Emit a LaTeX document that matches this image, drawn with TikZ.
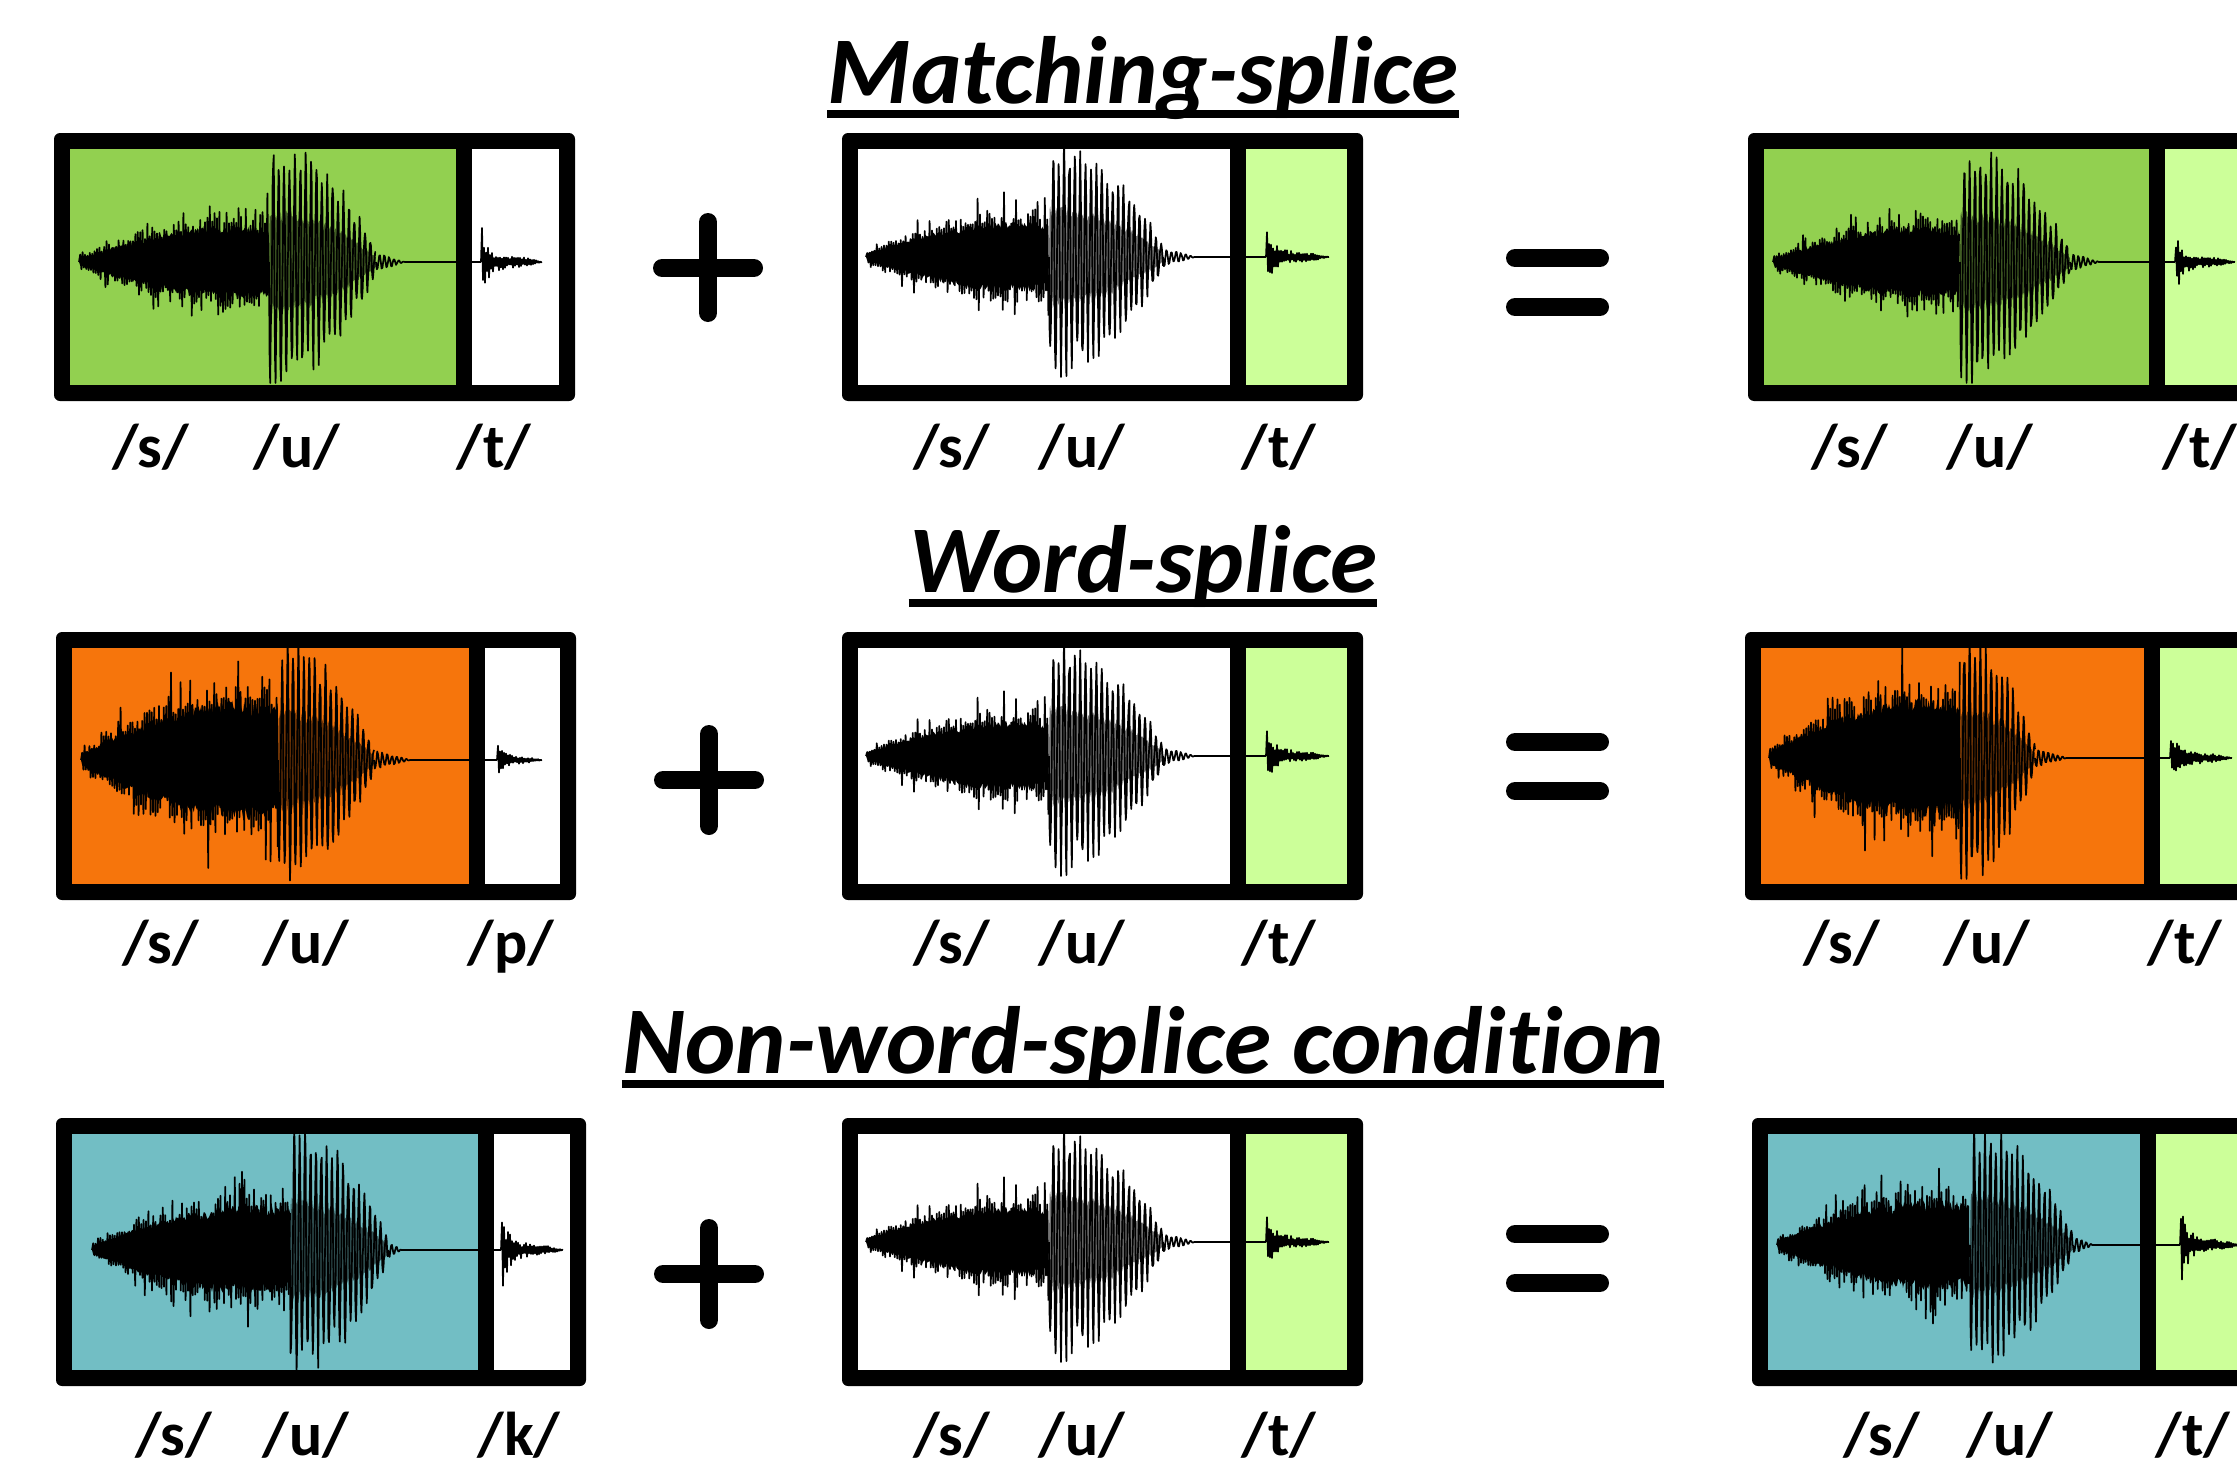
\documentclass[tikz,border=0pt]{standalone}
\usepackage{fontspec}
\setmainfont{Carlito}[Ligatures=NoCommon]

\definecolor{leafgreen}{RGB}{146,208,80}
\definecolor{palegreen}{RGB}{204,255,153}
\definecolor{splorange}{RGB}{246,117,12}
\definecolor{splteal}{RGB}{114,190,196}

% framed recording: #1 left, #2 cut, #3 right, #4 top, #5 and #6 fill colours
\newcommand{\recording}[6]{%
  \fill[recframe] (#1,#4) rectangle (#3,#4+268);
  \fill[#5] (#1+16,#4+16) rectangle (#2,#4+252);
  \fill[#6] (#2+16,#4+16) rectangle (#3-16,#4+252);
}

% fricative noise: #1 start x, #2 end x, #3 centre y, #4 peak amplitude
\newcommand{\noisewave}[4]{%
  \pgfmathtruncatemacro{\wn}{(#2-#1)/1.2}
  % solid core
  \fill (#1,#3) \foreach \wi in {1,...,\wn}
    { -- ({#1+1.2*\wi},{#3-#4*(0.1+0.9*sin(112*(\wi/\wn)))*(0.45+0.15*rnd)}) }
    \foreach \wi in {\wn,...,1}
    { -- ({#1+1.2*\wi},{#3+#4*(0.1+0.9*sin(112*(\wi/\wn)))*(0.45+0.15*rnd)}) } -- cycle;
  % spiky edge
  \draw[wave] (#1,#3) \foreach \wi in {1,...,\wn}
    { -- ({#1+1.2*\wi},{#3+(1-2*mod(\wi,2))*#4*(0.12+0.88*sin(112*(\wi/\wn)))*(0.45+0.3*rnd+0.45*rnd^6)}) };
}

% voiced part: #1 start x, #2 end x, #3 centre y, #4 amplitude (kept inside the frame)
\newcommand{\voicewave}[4]{%
  \pgfmathtruncatemacro{\wn}{(#2-#1)/0.6}
  \fill[opacity=0.55] (#1,#3) \foreach \wi in {1,...,\wn}
    { -- ({#1+0.6*\wi},{#3-#4*(1-0.9*(\wi/\wn)^2)*(0.3+0.1*rnd)}) }
    \foreach \wi in {\wn,...,1}
    { -- ({#1+0.6*\wi},{#3+#4*(1-0.9*(\wi/\wn)^2)*(0.3+0.1*rnd)}) } -- cycle;
  \draw[wave] (#1,#3) \foreach \wi in {1,...,\wn}
    { -- ({#1+0.6*\wi},{#3+max(-121,min(121,#4*(1-0.9*(\wi/\wn)^2)*(sin(40*\wi)*(0.8+0.3*cos(40*\wi))+0.15*rand)))}) };
}

% ringing after the vowel, then silence: #1 start, #2 ringing end, #3 silence end, #4 centre y
\newcommand{\tailwave}[4]{%
  \pgfmathtruncatemacro{\wn}{(#2-#1)/0.8}
  \draw[wave] (#1,#4) \foreach \wi in {1,...,\wn}
    { -- ({#1+0.8*\wi},{#4+11*(1-\wi/\wn)*sin(60*\wi)*(0.6+0.4*rnd)}) } -- (#3,#4);
}

% release burst: #1 x, #2 end x, #3 centre y, #4 peak, #5 noise floor
\newcommand{\burstwave}[5]{%
  \pgfmathtruncatemacro{\wn}{(#2-#1)/1.0}
  \draw[wave] (#1,#3) \foreach \wi in {1,...,\wn}
    { -- ({#1+1.0*\wi},{#3+(1-2*mod(\wi,2))*(#4*exp(-\wi/6)+#5*(1-(\wi/\wn)^3))*(0.35+0.65*rnd)}) };
}

\begin{document}
\begin{tikzpicture}[x=0.1mm, y=-0.1mm,
      recframe/.style={fill=black, rounded corners=0.6mm},
      wave/.style={line width=0.17mm, line join=round},
      phon/.style={font=\fontsize{17.6}{20}\selectfont\bfseries, inner sep=0pt, anchor=base},
      heading/.style={font=\fontsize{27.2}{30}\selectfont\bfseries\itshape, inner sep=0pt, anchor=base},
      rule/.style={line width=0.8mm},
      sign/.style={line width=1.8mm, line cap=round}]

      \clip (0,0) rectangle (2237,1468);
      \fill[white] (0,0) rectangle (2237,1468);

      % Matching-splice row
      \node[heading] (match) at (1143,103) {Matching-splice};
      \draw[rule] ([yshift=-3.1pt]match.base west) -- ([yshift=-3.1pt]match.base east);

      \recording{54}{456}{575}{133}{leafgreen}{white}
      \pgfmathsetseed{7}
      \noisewave{79}{269}{262}{62}
      \voicewave{269}{376}{262}{132}
      \tailwave{376}{405}{481}{262}
      \burstwave{481}{542}{262}{33}{7}
      \foreach \x/\ph in {151/s, 297/u, 494/t}
          \node[phon] (r1a-\ph) at (\x,467) {/\ph/};

      \draw[sign] (708,222) -- (708,313);
      \draw[sign] (662,268) -- (754,268);

      \recording{842}{1230}{1363}{133}{white}{palegreen}
      \pgfmathsetseed{21}
      \noisewave{866}{1049}{257}{60}
      \voicewave{1049}{1163}{257}{128}
      \tailwave{1163}{1195}{1266}{257}
      \burstwave{1266}{1329}{257}{32}{6}
      \foreach \x/\ph in {952/s, 1082/u, 1279/t}
          \node[phon] (r1b-\ph) at (\x,467) {/\ph/};

      \draw[sign] (1515,258) -- (1600,258);
      \draw[sign] (1515,307) -- (1600,307);

      \recording{1748}{2149}{2320}{133}{leafgreen}{palegreen}
      \pgfmathsetseed{7}
      \noisewave{1773}{1960}{262}{60}
      \voicewave{1960}{2070}{262}{128}
      \tailwave{2070}{2100}{2175}{262}
      \burstwave{2175}{2235}{262}{32}{6}
      \foreach \x/\ph in {1850/s, 1990/u, 2200/t}
          \node[phon] (r1c-\ph) at (\x,467) {/\ph/};

      % Word-splice row
      \node[heading] (word) at (1143,592) {Word-splice};
      \draw[rule] ([yshift=-3.1pt]word.base west) -- ([yshift=-3.1pt]word.base east);

      \recording{56}{469}{576}{632}{splorange}{white}
      \pgfmathsetseed{13}
      \noisewave{81}{278}{760}{100}
      \voicewave{278}{374}{760}{130}
      \tailwave{374}{411}{497}{760}
      \burstwave{497}{542}{760}{13}{4}
      \foreach \x/\ph in {161/s, 306/u, 511/p}
          \node[phon] (r2a-\ph) at (\x,963) {/\ph/};

      \draw[sign] (709,734) -- (709,826);
      \draw[sign] (663,780) -- (755,780);

      \recording{842}{1230}{1363}{632}{white}{palegreen}
      \pgfmathsetseed{21}
      \noisewave{866}{1049}{756}{60}
      \voicewave{1049}{1163}{756}{128}
      \tailwave{1163}{1195}{1266}{756}
      \burstwave{1266}{1329}{756}{32}{6}
      \foreach \x/\ph in {952/s, 1082/u, 1279/t}
          \node[phon] (r2b-\ph) at (\x,963) {/\ph/};

      \draw[sign] (1515,742) -- (1600,742);
      \draw[sign] (1515,791) -- (1600,791);

      \recording{1745}{2144}{2320}{632}{splorange}{palegreen}
      \pgfmathsetseed{13}
      \noisewave{1769}{1960}{758}{100}
      \voicewave{1960}{2035}{758}{130}
      \tailwave{2035}{2067}{2170}{758}
      \burstwave{2170}{2232}{758}{30}{6}
      \foreach \x/\ph in {1842/s, 1987/u, 2185/t}
          \node[phon] (r2c-\ph) at (\x,963) {/\ph/};

      % Non-word-splice row
      \node[heading] (nonword) at (1143,1073) {Non-word-splice condition};
      \draw[rule] ([yshift=-3.1pt]nonword.base west) -- ([yshift=-3.1pt]nonword.base east);

      \recording{56}{478}{586}{1118}{splteal}{white}
      \pgfmathsetseed{5}
      \noisewave{92}{290}{1250}{75}
      \voicewave{290}{388}{1250}{132}
      \tailwave{388}{402}{501}{1250}
      \burstwave{501}{563}{1250}{45}{7}
      \foreach \x/\ph in {174/s, 306/u, 519/k}
          \node[phon] (r3a-\ph) at (\x,1455) {/\ph/};

      \draw[sign] (709,1228) -- (709,1320);
      \draw[sign] (663,1274) -- (755,1274);

      \recording{842}{1230}{1363}{1118}{white}{palegreen}
      \pgfmathsetseed{21}
      \noisewave{866}{1049}{1242}{60}
      \voicewave{1049}{1163}{1242}{128}
      \tailwave{1163}{1195}{1266}{1242}
      \burstwave{1266}{1329}{1242}{32}{6}
      \foreach \x/\ph in {952/s, 1082/u, 1279/t}
          \node[phon] (r3b-\ph) at (\x,1455) {/\ph/};

      \draw[sign] (1515,1234) -- (1600,1234);
      \draw[sign] (1515,1283) -- (1600,1283);

      \recording{1752}{2140}{2320}{1118}{splteal}{palegreen}
      \pgfmathsetseed{5}
      \noisewave{1777}{1970}{1245}{75}
      \voicewave{1970}{2073}{1245}{132}
      \tailwave{2073}{2093}{2180}{1245}
      \burstwave{2180}{2240}{1245}{45}{7}
      \foreach \x/\ph in {1882/s, 2010/u, 2193/t}
          \node[phon] (r3c-\ph) at (\x,1455) {/\ph/};

\end{tikzpicture}
\end{document}
